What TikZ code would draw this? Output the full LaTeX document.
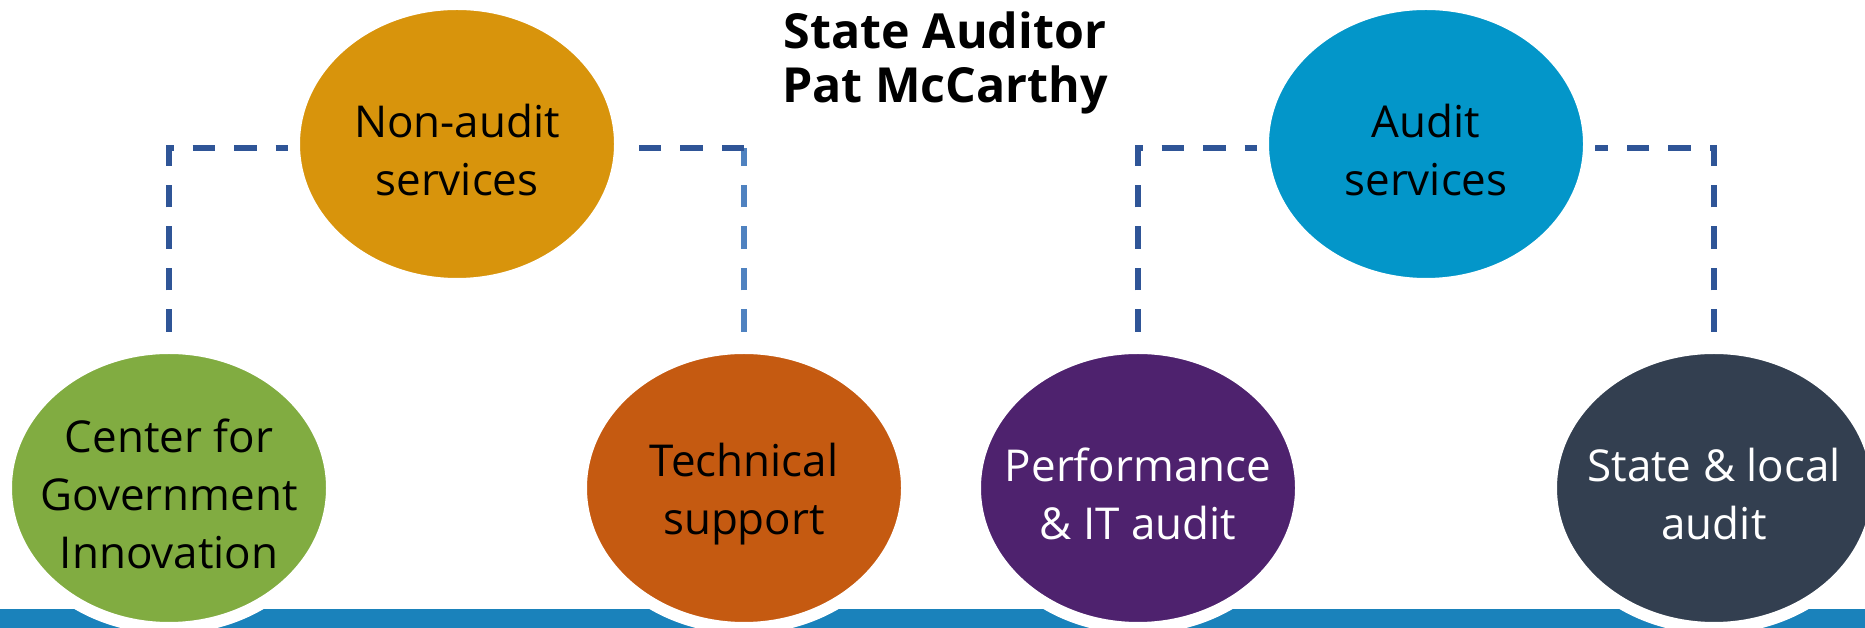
\documentclass[tikz,border=0pt]{standalone}
\usepackage{fontspec}
\setmainfont{Open Sans}
\usepackage{xcolor}
\usepackage{tikz}
\usetikzlibrary{shapes.geometric,backgrounds}

\definecolor{gold}{HTML}{D8940C}
\definecolor{sky}{HTML}{0396C9}
\definecolor{leaf}{HTML}{81AC41}
\definecolor{rust}{HTML}{C55A11}
\definecolor{plum}{HTML}{4E226E}
\definecolor{slate}{HTML}{333F50}
\definecolor{band}{HTML}{1A82BB}
\definecolor{linkdark}{HTML}{2F5597}
\definecolor{linklight}{HTML}{4F82C0}

\begin{document}
\begin{tikzpicture}[
        unit/.style={ellipse, draw=white, line width=0.24cm, minimum width=6.52cm, minimum height=5.60cm, inner sep=0pt},
        words/.style={align=center, font=\fontsize{25}{33}\selectfont, yshift=-0.12cm},
        link/.style={draw=linkdark, line width=0.12cm, dash pattern=on 0.45cm off 0.38cm}
    ]
        \useasboundingbox (0,0) rectangle (37.30,12.56);

        % Bottom band
        \fill[band] (0,0) rectangle (37.30,0.38);

        % Title
        \node[align=center, font=\bfseries\fontsize{27.5}{30.5}\selectfont] (title) at (18.90,11.30) {State Auditor\\Pat McCarthy};

        % Service groups
        \node[unit, fill=gold, label={[words]center:Non-audit\\services}] (nas) at (9.14,9.68) {};
        \node[unit, fill=sky, label={[words]center:Audit\\services}] (as) at (28.52,9.68) {};

        % Offices
        \node[unit, fill=leaf, label={[words]center:Center for\\Government\\Innovation}] (cgi) at (3.38,2.80) {};
        \node[unit, fill=rust, label={[words]center:Technical\\support}] (tech) at (14.88,2.80) {};
        \node[unit, fill=plum, label={[words, text=white]center:Performance\\\& IT audit}] (perf) at (22.76,2.80) {};
        \node[unit, fill=slate, label={[words, text=white]center:State \& local\\audit}] (sla) at (34.28,2.80) {};

        % Connections
        \begin{scope}[on background layer]
            \coordinate (nasw) at ([yshift=-0.08cm]nas.west);
            \coordinate (nase) at ([yshift=-0.08cm]nas.east);
            \coordinate (asw) at ([yshift=-0.08cm]as.west);
            \coordinate (ase) at ([yshift=-0.08cm]as.east);
            \coordinate (k2) at (tech.north |- nase);
            \draw[link] ([yshift=0.20cm]cgi.north) |- (nasw);
            \draw[link, draw=linklight] ([yshift=0.20cm]tech.north) -- (k2);
            \draw[link] (k2) -- (nase);
            \draw[link] ([yshift=0.20cm]perf.north) |- (asw);
            \draw[link] ([yshift=0.20cm]sla.north) |- (ase);
        \end{scope}
    \end{tikzpicture}
\end{document}
